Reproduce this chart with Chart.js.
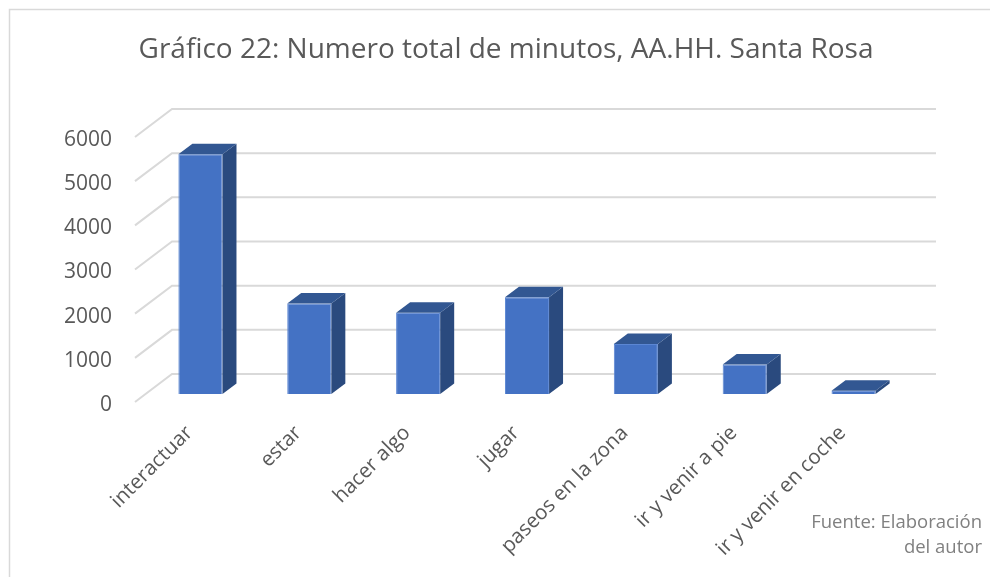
<!DOCTYPE html>
<html>
<head>
<meta charset="utf-8">
<script src="https://cdn.jsdelivr.net/npm/chart.js@4"></script>
<style>
  body { margin: 0; background: #fff; }
  canvas { display: block; }
</style>
</head>
<body>
<canvas id="chart" width="990" height="577"></canvas>
<script>
const categories = ["interactuar", "estar", "hacer algo", "jugar", "paseos en la zona", "ir y venir a pie", "ir y venir en coche"];
const minutes = [5430, 2050, 1840, 2190, 1130, 670, 75];
const yTicks = [0, 1000, 2000, 3000, 4000, 5000, 6000];

const titleText = "Gráfico 22: Numero total de minutos, AA.HH. Santa Rosa";
const sourceLines = ["Fuente: Elaboración", "del autor"];

// depth of the 3d effect
const BAR_DX = 14, BAR_DY = -10.5;
const WALL_DX = 26, WALL_DY = -20;
const FRONT_DX = -11, FRONT_DY = 8;

const fake3d = {
    id: "fake3d",
    beforeDraw(chart) {
        const ctx = chart.ctx;
        ctx.save();
        ctx.strokeStyle = "#d9d9d9";
        ctx.lineWidth = 1.5;
        ctx.beginPath();
        ctx.moveTo(9.5, 577);
        ctx.lineTo(9.5, 9.5);
        ctx.lineTo(990, 9.5);
        ctx.stroke();
        ctx.restore();
    },
    beforeDatasetsDraw(chart) {
        const ctx = chart.ctx;
        const area = chart.chartArea;
        const y = chart.scales.y;
        ctx.save();
        ctx.strokeStyle = "#d9d9d9";
        ctx.lineWidth = 2;
        y.ticks.forEach(t => {
            const p = y.getPixelForValue(t.value);
            ctx.beginPath();
            ctx.moveTo(area.left + FRONT_DX, p + FRONT_DY);
            ctx.lineTo(area.left + WALL_DX, p + WALL_DY);
            ctx.lineTo(area.right + WALL_DX + 2, p + WALL_DY);
            ctx.stroke();
        });
        ctx.restore();
    },
    afterDatasetsDraw(chart) {
        const ctx = chart.ctx;
        const meta = chart.getDatasetMeta(0);
        ctx.save();
        meta.data.forEach(bar => {
            const { x, y, base, width } = bar.getProps(["x", "y", "base", "width"], true);
            const l = x - width / 2, r = x + width / 2;
            ctx.fillStyle = "#2a4a7e";
            ctx.beginPath();
            ctx.moveTo(r, y);
            ctx.lineTo(r + BAR_DX, y + BAR_DY);
            ctx.lineTo(r + BAR_DX, base + BAR_DY);
            ctx.lineTo(r, base);
            ctx.closePath();
            ctx.fill();
            ctx.fillStyle = "#325792";
            ctx.beginPath();
            ctx.moveTo(l, y);
            ctx.lineTo(l + BAR_DX, y + BAR_DY);
            ctx.lineTo(r + BAR_DX, y + BAR_DY);
            ctx.lineTo(r, y);
            ctx.closePath();
            ctx.fill();
        });
        ctx.restore();
    },
    afterDraw(chart) {
        const ctx = chart.ctx;
        ctx.save();
        ctx.fillStyle = "#595959";
        ctx.font = "28px 'Open Sans'";
        ctx.textAlign = "center";
        ctx.textBaseline = "middle";
        ctx.fillText(titleText, 506, 50);
        ctx.fillStyle = "#808080";
        ctx.font = "18.5px 'Open Sans'";
        ctx.textAlign = "right";
        ctx.fillText(sourceLines[0], 982, 523);
        ctx.fillText(sourceLines[1], 982, 548);
        ctx.restore();
    }
};

new Chart(document.getElementById("chart"), {
    type: "bar",
    data: {
        labels: categories,
        datasets: [{
            data: minutes,
            backgroundColor: "#4472c4",
            borderColor: "#5b86d3",
            borderWidth: 1,
            barPercentage: 1,
            categoryPercentage: 0.405
        }]
    },
    options: {
        responsive: false,
        animation: false,
        devicePixelRatio: 1,
        layout: { padding: { left: 0, right: 82, top: 129, bottom: 0 } },
        plugins: {
            legend: { display: false },
            tooltip: { enabled: false }
        },
        scales: {
            x: {
                grid: { display: false, drawTicks: false },
                border: { display: false },
                ticks: {
                    color: "#595959",
                    font: { family: "'Open Sans'", size: 20.5 },
                    minRotation: 45,
                    maxRotation: 45,
                    labelOffset: -11,
                    padding: 27
                },
                afterFit: s => { s.height = 183; }
            },
            y: {
                min: 0,
                max: 6000,
                afterBuildTicks: s => { s.ticks = yTicks.map(v => ({ value: v })); },
                grid: { display: false, drawTicks: false },
                border: { display: false },
                ticks: {
                    color: "#595959",
                    font: { family: "'Open Sans'", size: 21 },
                    padding: 34,
                    labelOffset: 11,
                    callback: v => String(v)
                },
                afterFit: s => { s.width = 146; }
            }
        }
    },
    plugins: [fake3d]
});
</script>
</body>
</html>
